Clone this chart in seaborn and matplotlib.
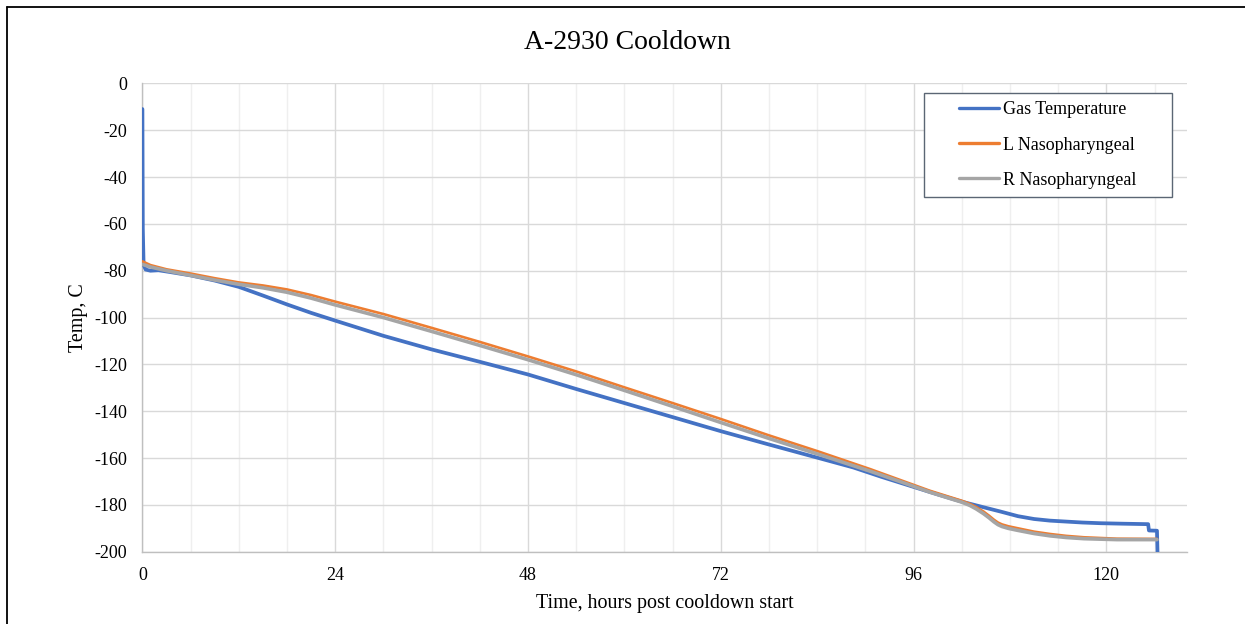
import matplotlib
matplotlib.use("Agg")
import matplotlib.pyplot as plt
from matplotlib.lines import Line2D
from matplotlib.patches import Rectangle
from matplotlib.ticker import MultipleLocator
import numpy as np
import pandas as pd
import seaborn as sns

# ---------------- data ----------------
title = "A-2930 Cooldown"
x_label = "Time, hours post cooldown start"
y_label = "Temp, C"
series_names = ["Gas Temperature", "L Nasopharyngeal", "R Nasopharyngeal"]
series_colors = ["#4472C4", "#ED7D31", "#A5A5A5"]

gas_hours = [0.0, 0.05, 0.15, 0.4, 1.0, 2.0, 3.5, 6.0, 9.0, 12.0, 15.0, 18.0, 21.0,
             24.0, 30.0, 36.0, 42.0, 48.0, 54.0, 60.0, 66.0, 72.0, 78.0, 84.0, 88.5,
             92.0, 96.0, 99.0, 102.0, 104.5, 106.8, 109.0, 111.0, 113.0, 115.0, 117.0,
             119.3, 122.0, 125.2, 125.3, 126.3, 126.4]
gas_temp = [-11.0, -62.0, -77.5, -79.5, -80.0, -79.8, -80.6, -82.0, -84.2, -86.9,
            -90.6, -94.4, -98.0, -101.3, -107.8, -113.6, -118.9, -124.3, -130.5,
            -136.5, -142.5, -148.5, -154.2, -159.8, -164.0, -168.0, -172.3, -175.5,
            -178.6, -180.8, -182.8, -184.8, -186.0, -186.7, -187.1, -187.5, -187.8,
            -188.0, -188.2, -190.9, -191.0, -205.0]

nas_hours = [0.0, 1.0, 3.0, 6.0, 9.0, 12.0, 15.0, 18.0, 21.0, 24.0, 30.0, 36.0, 42.0,
             48.0, 54.0, 60.0, 66.0, 72.0, 78.0, 84.0, 90.6, 94.3, 98.0, 100.5, 102.0,
             103.0, 103.8, 104.7, 105.4, 106.0, 106.5, 107.0, 107.8, 108.9, 111.0,
             113.0, 115.0, 117.2, 121.3, 126.3]
l_nas_temp = [-76.0, -77.6, -79.4, -81.2, -83.2, -85.0, -86.3, -88.0, -90.4, -93.2,
              -98.5, -104.4, -110.4, -116.6, -123.0, -129.8, -136.5, -143.3, -150.3,
              -157.0, -164.7, -169.3, -173.9, -176.6, -178.2, -179.5, -180.9, -182.8,
              -184.6, -186.3, -187.5, -188.3, -189.1, -189.9, -191.4, -192.4, -193.2,
              -193.8, -194.4, -194.5]
r_nas_temp = [-77.3, -78.4, -80.0, -82.0, -84.0, -85.8, -87.3, -89.2, -91.7, -94.6,
              -100.0, -105.9, -111.9, -118.0, -124.4, -131.1, -137.9, -144.8, -151.6,
              -158.2, -165.6, -170.0, -174.5, -177.2, -178.8, -180.2, -181.7, -183.7,
              -185.5, -187.2, -188.4, -189.2, -190.0, -190.8, -192.2, -193.2, -193.9,
              -194.4, -194.8, -194.8]

x_major_ticks = [0, 24, 48, 72, 96, 120]
y_major_ticks = [0, -20, -40, -60, -80, -100, -120, -140, -160, -180, -200]

# ---------------- style ----------------
sns.set_style("white")
plt.rcParams["font.family"] = ["Liberation Serif", "DejaVu Serif"]
plt.rcParams["axes.unicode_minus"] = False
plt.rcParams["text.color"] = "black"

W, H = 1245, 624
fig = plt.figure(figsize=(W / 100, H / 100), dpi=100)
ax = fig.add_axes([142.4 / W, 1 - 551.8 / H, (1186.7 - 142.4) / W, (551.8 - 83.3) / H])

gas_df = pd.DataFrame({"hours": gas_hours, "temp": gas_temp})
l_df = pd.DataFrame({"hours": nas_hours, "temp": l_nas_temp})
r_df = pd.DataFrame({"hours": nas_hours, "temp": r_nas_temp})

widths = [2.7, 1.9, 2.6]
for df, name, col, lw in zip([gas_df, l_df, r_df], series_names, series_colors, widths):
    sns.lineplot(data=df, x="hours", y="temp", ax=ax, color=col, linewidth=lw,
                 label=name, estimator=None, sort=False, zorder=3)

ax.set_xlim(0, 130)
ax.set_ylim(-200, 0)
ax.set_xticks(x_major_ticks)
ax.set_yticks(y_major_ticks)
ax.xaxis.set_minor_locator(MultipleLocator(6))
ax.yaxis.set_minor_locator(MultipleLocator(4))

ax.grid(which="major", axis="both", color="#d9d9d9", linewidth=1.0, zorder=0)
ax.grid(which="minor", axis="x", color="#efefef", linewidth=1.0, zorder=0)
ax.set_axisbelow(True)

for s in ["top", "right"]:
    ax.spines[s].set_visible(False)
for s in ["left", "bottom"]:
    ax.spines[s].set_color("#bfbfbf")
    ax.spines[s].set_linewidth(1.0)

ax.tick_params(which="major", length=0, pad=11, labelsize=13, labelcolor="black")
ax.tick_params(which="minor", direction="in", length=3, width=0.8, color="#bfbfbf")

ax.set_xlabel(x_label, fontsize=14.4, labelpad=7, color="black")
ax.set_ylabel(y_label, fontsize=14.4, labelpad=4.5, color="black")

fig.text(627 / W, 1 - 49.3 / H, title, ha="center", va="baseline", fontsize=20, color="black")

# legend with a frame box
frame = Rectangle((924 / W, 1 - 196.7 / H), (1172 - 924) / W, (196.7 - 93.3) / H,
                  transform=fig.transFigure, fill=True, facecolor="white",
                  edgecolor="#5b6674", linewidth=1.0, zorder=4, clip_on=False)
ax.add_patch(frame)
leg = ax.legend(loc="center", bbox_to_anchor=((924 + 1172) / 2 / W, 1 - (93.3 + 196.7) / 2 / H),
                bbox_transform=fig.transFigure, frameon=False, fontsize=13,
                handlelength=2.2, handletextpad=0.22, labelspacing=1.0, borderpad=0.3)
for h in leg.get_lines():
    h.set_linewidth(2.4)
for t in leg.get_texts():
    t.set_color("black")
leg.set_zorder(6)

# outer chart border (left and top visible)
bx, by = 6.7 / W, 1 - 6.7 / H
fig.add_artist(Line2D([bx, bx], [0, by], transform=fig.transFigure, color="black", linewidth=1.3))
fig.add_artist(Line2D([bx, 1], [by, by], transform=fig.transFigure, color="black", linewidth=1.3))

fig.savefig("out.png", dpi=100)
